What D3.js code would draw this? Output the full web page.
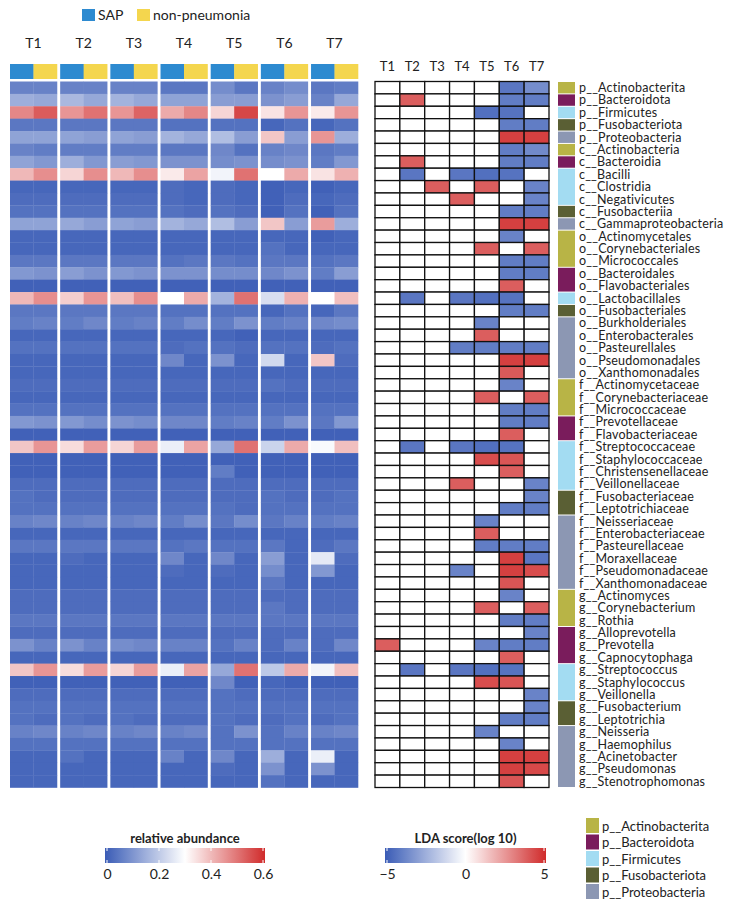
<!DOCTYPE html>
<html>
<head>
<meta charset="utf-8">
<script src="https://cdn.jsdelivr.net/npm/d3@7"></script>
<style>
  body { margin: 0; background: #fff; }
  text { font-family: Lato, "Open Sans", sans-serif; fill: #222; }
</style>
</head>
<body>
<div id="chart"></div>
<script>
// time points and groups
var timepoints = ["T1", "T2", "T3", "T4", "T5", "T6", "T7"];
var groups = ["SAP", "non-pneumonia"];
var groupColors = ["#2d8ad0", "#f4d64e"];

var phyla = ["p__Actinobacterita", "p__Bacteroidota", "p__Firmicutes", "p__Fusobacteriota", "p__Proteobacteria"];
var phylumColors = ["#b8b446", "#7a1c5c", "#a3dcf2", "#5a5f34", "#8c97b3"];

var taxa = [
  "p__Actinobacterita", "p__Bacteroidota", "p__Firmicutes", "p__Fusobacteriota", "p__Proteobacteria",
  "c__Actinobacteria", "c__Bacteroidia", "c__Bacilli", "c__Clostridia", "c__Negativicutes", "c__Fusobacteriia", "c__Gammaproteobacteria",
  "o__Actinomycetales", "o__Corynebacteriales", "o__Micrococcales", "o__Bacteroidales", "o__Flavobacteriales", "o__Lactobacillales",
  "o__Fusobacteriales", "o__Burkholderiales", "o__Enterobacterales", "o__Pasteurellales", "o__Pseudomonadales", "o__Xanthomonadales",
  "f__Actinomycetaceae", "f__Corynebacteriaceae", "f__Micrococcaceae", "f__Prevotellaceae", "f__Flavobacteriaceae", "f__Streptococcaceae",
  "f__Staphylococcaceae", "f__Christensenellaceae", "f__Veillonellaceae", "f__Fusobacteriaceae", "f__Leptotrichiaceae", "f__Neisseriaceae",
  "f__Enterobacteriaceae", "f__Pasteurellaceae", "f__Moraxellaceae", "f__Pseudomonadaceae", "f__Xanthomonadaceae",
  "g__Actinomyces", "g__Corynebacterium", "g__Rothia", "g__Alloprevotella", "g__Prevotella", "g__Capnocytophaga",
  "g__Streptococcus", "g__Staphylococcus", "g__Veillonella", "g__Fusobacterium", "g__Leptotrichia", "g__Neisseria",
  "g__Haemophilus", "g__Acinetobacter", "g__Pseudomonas", "g__Stenotrophomonas"
];

// index into phyla for every taxon
var taxonPhylum = [
  0, 1, 2, 3, 4,
  0, 1, 2, 2, 2, 3, 4,
  0, 0, 0, 1, 1, 2, 3, 4, 4, 4, 4, 4,
  0, 0, 0, 1, 1, 2, 2, 2, 2, 3, 3, 4, 4, 4, 4, 4, 4,
  0, 0, 0, 1, 1, 1, 2, 2, 2, 3, 3, 4, 4, 4, 4, 4
];

// relative abundance: T1 SAP, T1 non, T2 SAP, T2 non ... T7 non
var abundance = [
  [0.07, 0.07, 0.07, 0.07, 0.07, 0.07, 0.05, 0.05, 0.09, 0.05, 0.07, 0.09, 0.05, 0.06],
  [0.15, 0.14, 0.17, 0.14, 0.16, 0.14, 0.13, 0.13, 0.12, 0.12, 0.10, 0.12, 0.07, 0.14],
  [0.47, 0.53, 0.45, 0.50, 0.45, 0.52, 0.42, 0.47, 0.36, 0.56, 0.34, 0.45, 0.33, 0.45],
  [0.05, 0.05, 0.05, 0.05, 0.05, 0.05, 0.04, 0.04, 0.04, 0.04, 0.02, 0.04, 0.02, 0.04],
  [0.13, 0.13, 0.13, 0.12, 0.13, 0.12, 0.16, 0.14, 0.18, 0.12, 0.38, 0.12, 0.45, 0.15],
  [0.07, 0.06, 0.06, 0.06, 0.06, 0.06, 0.05, 0.05, 0.08, 0.04, 0.07, 0.08, 0.05, 0.06],
  [0.13, 0.11, 0.15, 0.11, 0.12, 0.11, 0.10, 0.10, 0.09, 0.10, 0.09, 0.10, 0.06, 0.11],
  [0.40, 0.46, 0.36, 0.46, 0.40, 0.46, 0.33, 0.43, 0.28, 0.50, 0.30, 0.42, 0.34, 0.41],
  [0.02, 0.02, 0.02, 0.02, 0.02, 0.02, 0.03, 0.02, 0.03, 0.02, 0.01, 0.02, 0.01, 0.02],
  [0.03, 0.03, 0.03, 0.03, 0.03, 0.03, 0.03, 0.02, 0.03, 0.02, 0.01, 0.03, 0.02, 0.03],
  [0.04, 0.04, 0.04, 0.04, 0.04, 0.04, 0.04, 0.03, 0.04, 0.03, 0.01, 0.04, 0.01, 0.04],
  [0.13, 0.13, 0.14, 0.12, 0.13, 0.12, 0.16, 0.14, 0.18, 0.12, 0.38, 0.12, 0.44, 0.15],
  [0.02, 0.02, 0.02, 0.02, 0.02, 0.02, 0.02, 0.02, 0.02, 0.02, 0.02, 0.02, 0.01, 0.02],
  [0.02, 0.02, 0.02, 0.02, 0.02, 0.02, 0.02, 0.02, 0.02, 0.02, 0.04, 0.02, 0.02, 0.02],
  [0.05, 0.05, 0.05, 0.05, 0.05, 0.05, 0.04, 0.05, 0.05, 0.04, 0.05, 0.05, 0.04, 0.05],
  [0.11, 0.10, 0.12, 0.10, 0.11, 0.10, 0.10, 0.10, 0.09, 0.09, 0.08, 0.10, 0.06, 0.12],
  [0.01, 0.01, 0.01, 0.01, 0.01, 0.01, 0.01, 0.01, 0.01, 0.01, 0.01, 0.01, 0.01, 0.01],
  [0.40, 0.46, 0.37, 0.45, 0.39, 0.46, 0.30, 0.42, 0.16, 0.50, 0.24, 0.41, 0.30, 0.39],
  [0.05, 0.05, 0.05, 0.05, 0.05, 0.05, 0.04, 0.04, 0.04, 0.04, 0.02, 0.04, 0.02, 0.05],
  [0.06, 0.07, 0.06, 0.08, 0.06, 0.07, 0.06, 0.09, 0.06, 0.10, 0.06, 0.07, 0.08, 0.09],
  [0.02, 0.02, 0.02, 0.02, 0.02, 0.02, 0.02, 0.02, 0.02, 0.01, 0.02, 0.02, 0.02, 0.02],
  [0.04, 0.04, 0.04, 0.04, 0.04, 0.04, 0.03, 0.04, 0.04, 0.03, 0.04, 0.04, 0.03, 0.04],
  [0.02, 0.02, 0.02, 0.02, 0.02, 0.02, 0.08, 0.02, 0.10, 0.02, 0.23, 0.02, 0.38, 0.03],
  [0.02, 0.02, 0.02, 0.02, 0.02, 0.02, 0.02, 0.02, 0.02, 0.02, 0.02, 0.02, 0.02, 0.02],
  [0.03, 0.03, 0.03, 0.03, 0.03, 0.03, 0.03, 0.03, 0.03, 0.03, 0.04, 0.03, 0.03, 0.03],
  [0.02, 0.02, 0.02, 0.02, 0.02, 0.02, 0.02, 0.02, 0.02, 0.02, 0.02, 0.02, 0.02, 0.02],
  [0.04, 0.04, 0.04, 0.04, 0.04, 0.04, 0.04, 0.04, 0.04, 0.04, 0.04, 0.04, 0.04, 0.04],
  [0.11, 0.10, 0.11, 0.09, 0.10, 0.09, 0.08, 0.08, 0.06, 0.07, 0.06, 0.10, 0.05, 0.11],
  [0.01, 0.01, 0.01, 0.01, 0.01, 0.01, 0.01, 0.01, 0.01, 0.01, 0.01, 0.01, 0.01, 0.01],
  [0.38, 0.45, 0.35, 0.44, 0.36, 0.44, 0.27, 0.43, 0.14, 0.50, 0.22, 0.42, 0.29, 0.39],
  [0.01, 0.01, 0.01, 0.01, 0.01, 0.01, 0.01, 0.01, 0.01, 0.01, 0.01, 0.01, 0.01, 0.01],
  [0.01, 0.01, 0.01, 0.01, 0.01, 0.01, 0.01, 0.01, 0.06, 0.01, 0.01, 0.01, 0.01, 0.01],
  [0.03, 0.03, 0.03, 0.03, 0.03, 0.03, 0.03, 0.03, 0.03, 0.03, 0.03, 0.03, 0.03, 0.03],
  [0.04, 0.03, 0.03, 0.03, 0.03, 0.03, 0.03, 0.03, 0.03, 0.03, 0.04, 0.03, 0.03, 0.04],
  [0.04, 0.04, 0.04, 0.04, 0.04, 0.04, 0.04, 0.04, 0.04, 0.03, 0.04, 0.04, 0.04, 0.04],
  [0.07, 0.08, 0.07, 0.08, 0.07, 0.08, 0.06, 0.09, 0.05, 0.09, 0.05, 0.07, 0.06, 0.07],
  [0.02, 0.02, 0.02, 0.02, 0.02, 0.02, 0.02, 0.02, 0.02, 0.02, 0.02, 0.02, 0.02, 0.02],
  [0.05, 0.05, 0.05, 0.05, 0.05, 0.05, 0.04, 0.05, 0.04, 0.04, 0.05, 0.02, 0.03, 0.05],
  [0.02, 0.02, 0.03, 0.02, 0.02, 0.02, 0.08, 0.02, 0.08, 0.02, 0.12, 0.02, 0.26, 0.03],
  [0.02, 0.02, 0.02, 0.02, 0.02, 0.02, 0.03, 0.02, 0.03, 0.02, 0.09, 0.02, 0.11, 0.02],
  [0.02, 0.02, 0.02, 0.02, 0.02, 0.02, 0.02, 0.02, 0.02, 0.02, 0.05, 0.02, 0.02, 0.02],
  [0.03, 0.03, 0.03, 0.03, 0.03, 0.03, 0.03, 0.03, 0.03, 0.03, 0.03, 0.03, 0.03, 0.03],
  [0.03, 0.03, 0.03, 0.03, 0.03, 0.03, 0.03, 0.03, 0.03, 0.03, 0.05, 0.03, 0.03, 0.03],
  [0.05, 0.05, 0.05, 0.05, 0.05, 0.05, 0.05, 0.05, 0.05, 0.05, 0.05, 0.05, 0.05, 0.05],
  [0.03, 0.03, 0.03, 0.03, 0.03, 0.03, 0.03, 0.03, 0.03, 0.03, 0.03, 0.03, 0.03, 0.03],
  [0.10, 0.07, 0.10, 0.07, 0.09, 0.08, 0.07, 0.07, 0.04, 0.07, 0.03, 0.07, 0.03, 0.08],
  [0.02, 0.02, 0.02, 0.02, 0.02, 0.02, 0.02, 0.02, 0.02, 0.02, 0.02, 0.02, 0.02, 0.02],
  [0.38, 0.45, 0.35, 0.44, 0.36, 0.44, 0.27, 0.43, 0.14, 0.50, 0.20, 0.42, 0.28, 0.39],
  [0.01, 0.01, 0.01, 0.01, 0.01, 0.01, 0.01, 0.01, 0.08, 0.01, 0.02, 0.01, 0.01, 0.01],
  [0.03, 0.03, 0.03, 0.03, 0.03, 0.03, 0.03, 0.03, 0.04, 0.03, 0.03, 0.03, 0.03, 0.03],
  [0.04, 0.04, 0.04, 0.04, 0.04, 0.04, 0.04, 0.04, 0.04, 0.04, 0.04, 0.04, 0.04, 0.04],
  [0.04, 0.03, 0.04, 0.03, 0.04, 0.03, 0.03, 0.03, 0.04, 0.03, 0.03, 0.04, 0.03, 0.04],
  [0.07, 0.08, 0.07, 0.08, 0.07, 0.08, 0.07, 0.08, 0.04, 0.10, 0.04, 0.07, 0.07, 0.08],
  [0.04, 0.04, 0.04, 0.04, 0.04, 0.04, 0.04, 0.04, 0.04, 0.04, 0.04, 0.04, 0.04, 0.04],
  [0.02, 0.02, 0.04, 0.02, 0.02, 0.02, 0.07, 0.02, 0.08, 0.02, 0.15, 0.02, 0.27, 0.02],
  [0.02, 0.02, 0.02, 0.02, 0.02, 0.02, 0.02, 0.02, 0.03, 0.02, 0.10, 0.02, 0.10, 0.02],
  [0.02, 0.02, 0.02, 0.02, 0.02, 0.02, 0.02, 0.02, 0.02, 0.02, 0.04, 0.02, 0.02, 0.02]
];

// LDA score (log10), T1..T7, 0 = not significant
var ldaScores = [
  [0, 0, 0, 0, 0, -4.2, -3.5],
  [0, 3.8, 0, 0, 0, -4.0, -4.0],
  [0, 0, 0, 0, -4.4, -4.3, 0],
  [0, 0, 0, 0, 0, -4.0, -4.0],
  [0, 0, 0, 0, 0, 4.5, 4.5],
  [0, 0, 0, 0, 0, -4.0, -3.6],
  [0, 3.8, 0, 0, 0, -4.0, -4.0],
  [0, -4.2, 0, -4.2, -4.4, -4.3, 0],
  [0, 0, 3.8, 0, 3.8, 0, -3.8],
  [0, 0, 0, 3.8, 0, 0, -3.8],
  [0, 0, 0, 0, 0, -4.0, -4.0],
  [0, 0, 0, 0, 0, 4.5, 4.5],
  [0, 0, 0, 0, 0, -3.8, 0],
  [0, 0, 0, 0, 3.8, 0, 3.8],
  [0, 0, 0, 0, 0, -4.0, -4.0],
  [0, 0, 0, 0, 0, -4.0, -4.0],
  [0, 0, 0, 0, 0, 3.8, 0],
  [0, -4.2, 0, -4.2, -4.4, -4.3, 0],
  [0, 0, 0, 0, 0, -4.0, -4.0],
  [0, 0, 0, 0, -3.8, 0, 0],
  [0, 0, 0, 0, 3.8, 0, 0],
  [0, 0, 0, -4.0, -4.0, -4.0, -4.0],
  [0, 0, 0, 0, 0, 4.5, 4.5],
  [0, 0, 0, 0, 0, 3.9, 0],
  [0, 0, 0, 0, 0, -3.8, 0],
  [0, 0, 0, 0, 3.8, 0, 3.8],
  [0, 0, 0, 0, 0, -4.0, -4.0],
  [0, 0, 0, 0, 0, -4.0, -4.0],
  [0, 0, 0, 0, 0, 3.8, 0],
  [0, -4.2, 0, -4.2, -4.4, -4.3, 0],
  [0, 0, 0, 0, 4.2, 4.0, 0],
  [0, 0, 0, 0, 0, 3.8, 0],
  [0, 0, 0, 3.8, 0, 0, -3.8],
  [0, 0, 0, 0, 0, 0, -3.8],
  [0, 0, 0, 0, 0, -4.0, -4.0],
  [0, 0, 0, 0, -3.8, 0, 0],
  [0, 0, 0, 0, 3.8, 0, 0],
  [0, 0, 0, 0, -4.0, -4.0, -4.0],
  [0, 0, 0, 0, 0, 4.5, -4.2],
  [0, 0, 0, -3.8, 0, 4.5, 4.2],
  [0, 0, 0, 0, 0, 4.0, 0],
  [0, 0, 0, 0, 0, -3.8, 0],
  [0, 0, 0, 0, 3.8, 0, 3.8],
  [0, 0, 0, 0, 0, -4.0, -4.0],
  [0, 0, 0, 0, 0, 0, -3.8],
  [3.8, 0, 0, 0, -3.8, -4.0, -4.0],
  [0, 0, 0, 0, 0, 3.8, 0],
  [0, -4.2, 0, -4.2, -4.4, -4.3, 0],
  [0, 0, 0, 0, 4.2, 4.0, 0],
  [0, 0, 0, 0, 0, 0, -3.8],
  [0, 0, 0, 0, 0, 0, -3.8],
  [0, 0, 0, 0, 0, -4.0, -4.0],
  [0, 0, 0, 0, -3.8, 0, 0],
  [0, 0, 0, 0, 0, -3.8, 0],
  [0, 0, 0, 0, 0, 4.5, 4.5],
  [0, 0, 0, 0, 0, 4.5, 4.3],
  [0, 0, 0, 0, 0, 4.0, 0]
];

var abundanceTicks = [0, 0.2, 0.4, 0.6];
var ldaTicks = [-5, 0, 5];

var w = 744, h = 906;

var svg = d3.select("#chart").append("svg")
  .attr("width", w)
  .attr("height", h);

// colour scales
var abundColor = d3.scaleLinear()
  .domain([0, 0.3, 0.6])
  .range(["#3a5cb6", "#ffffff", "#d02b2b"])
  .clamp(true);

var ldaColor = d3.scaleLinear()
  .domain([-5, 0, 5])
  .range(["#3a5cb6", "#ffffff", "#d02b2b"])
  .clamp(true);

// shared row scale
var y = d3.scaleBand()
  .domain(taxa)
  .range([81.5, 787.5]);

// ----- left heatmap -----
var xGroup = d3.scaleBand()
  .domain(timepoints)
  .range([10, 358])
  .paddingInner(0.064);

var xSub = d3.scaleBand()
  .domain(groups)
  .range([0, xGroup.bandwidth()]);

var groupColor = d3.scaleOrdinal().domain(groups).range(groupColors);

// top legend
var topLegend = svg.append("g");
var legendX = [82, 137];
groups.forEach(function(g, i) {
  topLegend.append("rect")
    .attr("x", legendX[i])
    .attr("y", 9)
    .attr("width", 13)
    .attr("height", 12)
    .attr("fill", groupColors[i]);
  topLegend.append("text")
    .attr("x", legendX[i] + 16)
    .attr("y", 20)
    .attr("font-size", "14px")
    .text(g);
});

// time point labels
svg.append("g").selectAll("text")
  .data(timepoints)
  .enter()
  .append("text")
  .attr("x", function(d) { return xGroup(d) + xGroup.bandwidth() / 2; })
  .attr("y", 48)
  .attr("text-anchor", "middle")
  .attr("font-size", "14px")
  .text(function(d) { return d; });

// group annotation strip
var cols = [];
timepoints.forEach(function(t, ti) {
  groups.forEach(function(g, gi) {
    cols.push({ t: t, g: g, idx: ti * 2 + gi });
  });
});

svg.append("g").selectAll("rect")
  .data(cols)
  .enter()
  .append("rect")
  .attr("x", function(d) { return xGroup(d.t) + xSub(d.g); })
  .attr("y", 64)
  .attr("width", xSub.bandwidth() + 0.3)
  .attr("height", 15)
  .attr("fill", function(d) { return groupColor(d.g); });

// heatmap cells
var cells = [];
abundance.forEach(function(row, ri) {
  cols.forEach(function(c) {
    cells.push({ taxon: taxa[ri], t: c.t, g: c.g, v: row[c.idx] });
  });
});

svg.append("g").selectAll("rect")
  .data(cells)
  .enter()
  .append("rect")
  .attr("x", function(d) { return xGroup(d.t) + xSub(d.g); })
  .attr("y", function(d) { return y(d.taxon); })
  .attr("width", xSub.bandwidth() + 0.3)
  .attr("height", y.bandwidth() + 0.3)
  .attr("fill", function(d) { return abundColor(d.v); });

// ----- right LDA grid -----
var xLda = d3.scaleBand()
  .domain(timepoints)
  .range([375, 549]);

svg.append("g").selectAll("text")
  .data(timepoints)
  .enter()
  .append("text")
  .attr("x", function(d) { return xLda(d) + xLda.bandwidth() / 2; })
  .attr("y", 71)
  .attr("text-anchor", "middle")
  .attr("font-size", "13px")
  .text(function(d) { return d; });

var ldaCells = [];
ldaScores.forEach(function(row, ri) {
  row.forEach(function(v, ci) {
    ldaCells.push({ taxon: taxa[ri], t: timepoints[ci], v: v });
  });
});

svg.append("g").selectAll("rect")
  .data(ldaCells)
  .enter()
  .append("rect")
  .attr("x", function(d) { return xLda(d.t); })
  .attr("y", function(d) { return y(d.taxon); })
  .attr("width", xLda.bandwidth())
  .attr("height", y.bandwidth())
  .attr("fill", function(d) { return d.v === 0 ? "#ffffff" : ldaColor(d.v); })
  .attr("stroke", "#111")
  .attr("stroke-width", 1.3);

// phylum side bar, merged into blocks
var blocks = [];
taxonPhylum.forEach(function(p, i) {
  var last = blocks[blocks.length - 1];
  if (last && last.p === p) {
    last.end = i;
  } else {
    blocks.push({ p: p, start: i, end: i });
  }
});

svg.append("g").selectAll("rect")
  .data(blocks)
  .enter()
  .append("rect")
  .attr("x", 558)
  .attr("y", function(d) { return y(taxa[d.start]) + 0.5; })
  .attr("width", 17)
  .attr("height", function(d) { return y(taxa[d.end]) + y.bandwidth() - y(taxa[d.start]) - 1; })
  .attr("fill", function(d) { return phylumColors[d.p]; });

// row labels
svg.append("g").selectAll("text")
  .data(taxa)
  .enter()
  .append("text")
  .attr("x", 579)
  .attr("y", function(d) { return y(d) + y.bandwidth() / 2; })
  .attr("dy", "0.35em")
  .attr("font-size", "12.5px")
  .attr("letter-spacing", "0.2px")
  .text(function(d) { return d; });

// ----- colour bar legends -----
var defs = svg.append("defs");

function colorBar(id, scale, domain, ticks, x0, x1, title, fmt) {
  var grad = defs.append("linearGradient").attr("id", id);
  d3.range(0, 1.0001, 0.05).forEach(function(f) {
    var v = domain[0] + f * (domain[1] - domain[0]);
    grad.append("stop")
      .attr("offset", (f * 100) + "%")
      .attr("stop-color", scale(v));
  });

  var xs = d3.scaleLinear().domain(domain).range([x0 + 2, x1 - 2]);
  var g = svg.append("g");

  g.append("text")
    .attr("x", (x0 + x1) / 2)
    .attr("y", 843)
    .attr("text-anchor", "middle")
    .attr("font-size", "13px")
    .attr("font-weight", "bold")
    .text(title);

  g.append("rect")
    .attr("x", x0)
    .attr("y", 848)
    .attr("width", x1 - x0)
    .attr("height", 15)
    .attr("fill", "url(#" + id + ")");

  // little white tick marks on the bar
  ticks.forEach(function(t) {
    [848, 860].forEach(function(yy) {
      g.append("line")
        .attr("x1", xs(t)).attr("x2", xs(t))
        .attr("y1", yy).attr("y2", yy + 3)
        .attr("stroke", "#fff")
        .attr("stroke-width", 1);
    });
  });

  var axis = d3.axisBottom(xs).tickValues(ticks).tickSize(0).tickFormat(fmt);
  var ax = g.append("g")
    .attr("transform", "translate(0,866)")
    .call(axis);
  ax.select(".domain").remove();
  ax.selectAll("text")
    .attr("font-size", "14px")
    .attr("fill", "#222")
    .style("font-family", "Lato, sans-serif");
}

colorBar("abGrad", abundColor, [0, 0.6], abundanceTicks, 105, 265, "relative abundance", d3.format(""));
colorBar("ldaGrad", ldaColor, [-5, 5], ldaTicks, 385, 546, "LDA score(log 10)", d3.format(""));

// phylum legend
var phylumLegend = svg.append("g").selectAll("g")
  .data(phyla)
  .enter()
  .append("g")
  .attr("transform", function(d, i) { return "translate(586," + (818 + i * 16.5) + ")"; });

phylumLegend.append("rect")
  .attr("width", 13)
  .attr("height", 15)
  .attr("fill", function(d, i) { return phylumColors[i]; });

phylumLegend.append("text")
  .attr("x", 16)
  .attr("y", 8)
  .attr("dy", "0.35em")
  .attr("font-size", "13px")
  .text(function(d) { return d; });
</script>
</body>
</html>
